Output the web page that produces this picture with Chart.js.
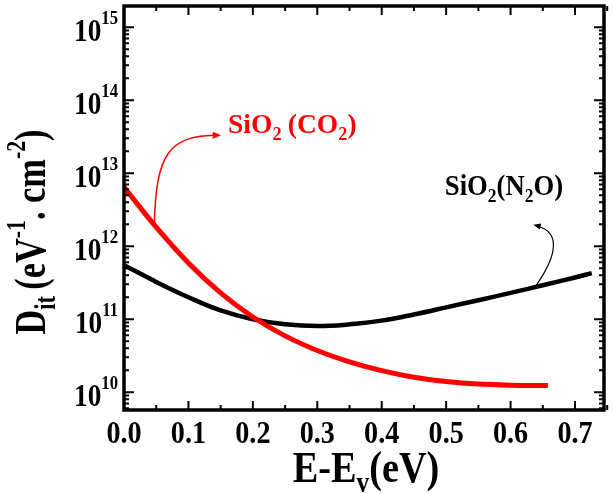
<!DOCTYPE html>
<html>
<head>
<meta charset="utf-8">
<script src="https://cdn.jsdelivr.net/npm/chart.js@4/dist/chart.umd.min.js"></script>
<style>
    html, body { margin: 0; padding: 0; background: #fff; }
    #wrap { width: 613px; height: 494px; }
</style>
</head>
<body>
<div id="wrap"><canvas id="ditChart" width="613" height="494"></canvas></div>
<script>
// ── Data ──────────────────────────────────────────────────────────────

const energyCO2 = [0, 0.05, 0.10, 0.15, 0.20, 0.25, 0.30, 0.35, 0.40, 0.45, 0.50, 0.55, 0.60, 0.658];
const ditCO2    = [6.46e12, 1.82e12, 5.9e11, 2.29e11, 1.07e11, 5.9e10, 3.72e10, 2.6e10, 1.97e10, 1.6e10, 1.4e10, 1.29e10, 1.245e10, 1.23e10];

const energyN2O = [0, 0.05, 0.10, 0.15, 0.20, 0.25, 0.30, 0.35, 0.40, 0.45, 0.50, 0.55, 0.60, 0.65, 0.70, 0.726];
const ditN2O    = [5.5e11, 3.24e11, 2.0e11, 1.32e11, 1.0e11, 8.5e10, 8.04e10, 8.5e10, 9.55e10, 1.16e11, 1.45e11, 1.82e11, 2.29e11, 2.92e11, 3.72e11, 4.27e11];

const xTicks   = [0, 0.1, 0.2, 0.3, 0.4, 0.5, 0.6, 0.7];
const yDecades = [10, 11, 12, 13, 14, 15];

const FONT = '"Liberation Serif", "Times New Roman", serif';

// ── Helpers ───────────────────────────────────────────────────────────

// runs: [{ t, size, dy, gap }] drawn left to right on one baseline,
// squeezed horizontally by sx (the original lettering is narrow)
function runsWidth(ctx, runs, sx = 1) {
    return sx * runs.reduce((w, r) => {
        ctx.font = `bold ${r.size}px ${FONT}`;
        return w + ctx.measureText(r.t).width + (r.gap || 0);
    }, 0);
}

function drawRuns(ctx, x, y, runs, sx = 1) {
    ctx.save();
    ctx.translate(x, y);
    ctx.scale(sx, 1);
    ctx.textAlign = 'left';
    let cx = 0;
    runs.forEach(r => {
        ctx.font = `bold ${r.size}px ${FONT}`;
        ctx.fillText(r.t, cx, r.dy || 0);
        cx += ctx.measureText(r.t).width + (r.gap || 0);
    });
    ctx.restore();
}

// ── Frame, ticks, labels ──────────────────────────────────────────────

const framePlugin = {
    id: 'frame',
    afterDraw(chart) {
        const { ctx, chartArea: a, scales: { x, y } } = chart;
        ctx.save();
        ctx.strokeStyle = '#000';
        ctx.fillStyle = '#000';

        // ticks (inward on all four sides)
        ctx.lineWidth = 2;
        ctx.beginPath();
        for (let v = 0; v <= 0.7501; v += 0.05) {
            const px = x.getPixelForValue(v);
            const major = Math.abs(v * 10 - Math.round(v * 10)) < 1e-6;
            const len = major ? 9 : 5;
            ctx.moveTo(px, a.bottom); ctx.lineTo(px, a.bottom - len);
            ctx.moveTo(px, a.top);    ctx.lineTo(px, a.top + len);
        }
        for (let d = 9; d <= 15; d++) {
            for (let m = 1; m <= 9; m++) {
                const v = m * Math.pow(10, d);
                if (v < y.min || v > y.max) continue;
                const py = y.getPixelForValue(v);
                const len = m === 1 ? 10 : 5;
                ctx.moveTo(a.left, py);  ctx.lineTo(a.left + len, py);
                ctx.moveTo(a.right, py); ctx.lineTo(a.right - len, py);
            }
        }
        ctx.stroke();

        // box
        ctx.lineWidth = 3.5;
        ctx.strokeRect(a.left, a.top, a.right - a.left, a.bottom - a.top);

        // x tick labels
        xTicks.forEach(v => {
            const runs = [{ t: v.toFixed(1), size: 32 }];
            const w = runsWidth(ctx, runs, 0.88);
            drawRuns(ctx, x.getPixelForValue(v) - w / 2, 443, runs, 0.88);
        });

        // y tick labels: 10^n
        yDecades.forEach(n => {
            const py = y.getPixelForValue(Math.pow(10, n));
            const runs = [
                { t: '10', size: 31 },
                { t: String(n), size: 19, dy: -17 },
            ];
            const w = runsWidth(ctx, runs, 0.88);
            drawRuns(ctx, 118 - w, py + 14, runs, 0.88);
        });

        // x title
        const xt = [
            { t: 'E-E', size: 44 },
            { t: 'v', size: 29, dy: 10 },
            { t: '(eV)', size: 44 },
        ];
        drawRuns(ctx, 366 - runsWidth(ctx, xt, 0.87) / 2, 482, xt, 0.87);

        // y title (rotated)
        const yt = [
            { t: 'D', size: 44 },
            { t: 'it', size: 29, dy: 10, gap: 8 },
            { t: '(eV', size: 44 },
            { t: '-1', size: 28, dy: -20 },
            { t: '. cm', size: 44 },
            { t: '-2', size: 28, dy: -20 },
            { t: ')', size: 44 },
        ];
        ctx.translate(45, 0);
        ctx.rotate(-Math.PI / 2);
        const yw = runsWidth(ctx, yt, 0.78);
        drawRuns(ctx, -232 - yw / 2, 0, yt, 0.78);
        ctx.restore();
    },
};

// ── Annotations with curved arrows ────────────────────────────────────

function arrowHead(ctx, tx, ty, fx, fy, size) {
    const ang = Math.atan2(ty - fy, tx - fx);
    ctx.beginPath();
    ctx.moveTo(tx, ty);
    ctx.lineTo(tx - size * Math.cos(ang - 0.4), ty - size * Math.sin(ang - 0.4));
    ctx.lineTo(tx - size * Math.cos(ang + 0.4), ty - size * Math.sin(ang + 0.4));
    ctx.closePath();
    ctx.fill();
}

const annotationPlugin = {
    id: 'notes',
    afterDatasetsDraw(chart) {
        const { ctx, scales: { x, y } } = chart;
        const P = (e, lg) => [x.getPixelForValue(e), y.getPixelForValue(Math.pow(10, lg))];
        ctx.save();

        // SiO2 (CO2) label + arrow
        ctx.fillStyle = '#ff0000';
        ctx.strokeStyle = '#ff0000';
        ctx.lineWidth = 1.5;
        let [sx, sy] = P(0.047, 12.30);
        let [c1x, c1y] = P(0.050, 13.25);
        let [c2x, c2y] = P(0.068, 13.52);
        let [ex, ey] = P(0.146, 13.52);
        ctx.beginPath();
        ctx.moveTo(sx, sy);
        ctx.bezierCurveTo(c1x, c1y, c2x, c2y, ex, ey);
        ctx.stroke();
        arrowHead(ctx, ex + 3, ey, c2x, c2y, 9);

        let [lx, ly] = P(0.1615, 13.55);
        drawRuns(ctx, lx, ly, [
            { t: 'SiO', size: 27 },
            { t: '2', size: 18, dy: 7, gap: 6 },
            { t: '(CO', size: 27 },
            { t: '2', size: 18, dy: 7 },
            { t: ')', size: 27 },
        ], 1.02);

        // SiO2(N2O) label + arrow
        ctx.fillStyle = '#000';
        ctx.strokeStyle = '#000';
        ctx.lineWidth = 1.2;
        [sx, sy] = P(0.638, 11.44);
        [c1x, c1y] = P(0.665, 11.78);
        [c2x, c2y] = P(0.685, 12.18);
        [ex, ey] = P(0.640, 12.28);
        ctx.beginPath();
        ctx.moveTo(sx, sy);
        ctx.bezierCurveTo(c1x, c1y, c2x, c2y, ex, ey);
        ctx.stroke();
        arrowHead(ctx, ex - 3, ey - 1, c2x, c2y, 8);

        [lx, ly] = P(0.498, 12.70);
        drawRuns(ctx, lx, ly, [
            { t: 'SiO', size: 29 },
            { t: '2', size: 19, dy: 7 },
            { t: '(N', size: 29 },
            { t: '2', size: 19, dy: 7 },
            { t: 'O)', size: 29 },
        ], 0.92);
        ctx.restore();
    },
};

// ── Chart ─────────────────────────────────────────────────────────────

const toPoints = (xs, ys) => xs.map((e, i) => ({ x: e, y: ys[i] }));

new Chart(document.getElementById('ditChart'), {
    type: 'line',
    data: {
        datasets: [
            {
                label: 'SiO2 (CO2)',
                data: toPoints(energyCO2, ditCO2),
                borderColor: '#ff0000',
                borderWidth: 5,
                pointRadius: 0,
                cubicInterpolationMode: 'monotone',
            },
            {
                label: 'SiO2(N2O)',
                data: toPoints(energyN2O, ditN2O),
                borderColor: '#000000',
                borderWidth: 4.5,
                pointRadius: 0,
                tension: 0.4,
            },
        ],
    },
    options: {
        responsive: false,
        animation: false,
        layout: { padding: { left: 124, right: 9, top: 6, bottom: 84 } },
        plugins: { legend: { display: false }, tooltip: { enabled: false } },
        scales: {
            x: { type: 'linear', min: 0, max: 0.745, display: false },
            y: { type: 'logarithmic', min: 5.7e9, max: 1.95e15, display: false },
        },
    },
    plugins: [framePlugin, annotationPlugin],
});
</script>
</body>
</html>
